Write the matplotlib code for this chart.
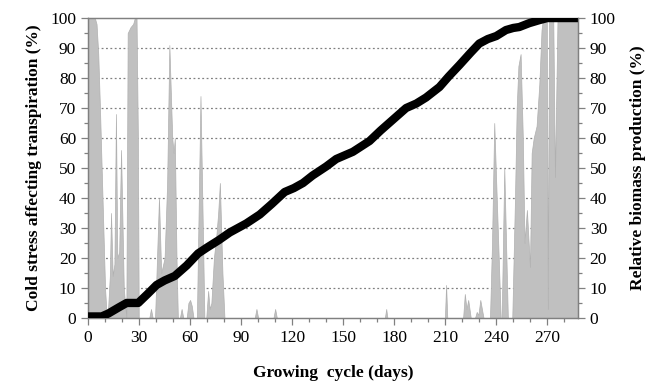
import numpy as np
import matplotlib
matplotlib.use('Agg')
import matplotlib.pyplot as plt
from matplotlib.ticker import MultipleLocator


plt.rcParams['font.family'] = ['Liberation Serif', 'DejaVu Serif']

# Cold stress affecting transpiration (%) - breakpoints
stress_day = [0, 4, 5, 6, 7, 8, 9, 10, 11,
              11.5, 12.8, 13.5, 14.5, 15.5, 16.4, 17.2, 18.3, 19.4, 21, 22.5,
              23.3, 25, 26.5, 27.5, 28.5, 29.3, 29.8,
              36, 37, 38,
              39.4, 41.7, 43, 45, 46.5, 47.8, 49.5, 50.3, 51, 52, 52.8,
              54, 55, 56,
              58, 59, 60, 61, 62,
              64, 66.1, 68.4,
              69.5, 70.6, 71.5, 72.5, 74, 75.5, 76.5, 77.5, 79, 80.2,
              98, 99, 100, 109, 110, 111, 174.5, 175.3, 176,
              209.8, 210.5, 211.2,
              220.5, 221.5, 222.5, 223.5, 225,
              227.5, 228.5, 229.5, 230.6, 232.5,
              236.3, 237.5, 238.8, 242.6, 243.2, 244.7, 246.8,
              249.4, 251, 252, 253, 254.3, 255.6, 256.6, 258, 259.8, 260.8,
              262, 263.7, 265.3, 266.6, 267.5, 269.7, 270.3, 271, 273.5,
              274.5, 276, 288]
stress_val = [100, 100, 98, 88, 70, 50, 30, 10, 0,
              0, 14, 35, 14, 18, 68, 20, 22, 56, 10, 0,
              95, 97, 98, 100, 100, 60, 0,
              0, 3, 0,
              0, 40, 15, 20, 45, 91, 60, 55, 60, 20, 0,
              0, 3, 0,
              0, 5, 6, 4, 0,
              0, 74, 0,
              0, 9, 3, 5, 20, 28, 35, 45, 15, 0,
              0, 3, 0, 0, 3, 0, 0, 3, 0,
              0, 11, 0,
              0, 8, 3, 6, 0,
              0, 2, 1, 6, 0,
              0, 25, 65, 0, 0, 50, 0,
              0, 40, 70, 84, 88, 60, 25, 36, 17, 55,
              60, 64, 78, 96, 100, 100, 3, 100, 100,
              47, 100, 100]

# Relative biomass production (%)
bio_day = [0, 8, 12, 18, 22.7, 29.5, 35, 40.3, 45, 51, 58, 64.7, 70, 77,
           83.3, 93, 101, 108, 115.6, 121, 126.4, 132, 140, 145.9, 155.7,
           165.5, 172, 180, 187, 193, 198.7, 206.6, 212, 218.3, 225, 230,
           235, 240, 245.7, 250, 253.5, 259.4, 265.3, 270, 288]
bio_val = [0.5, 0.5, 1.5, 3.5, 5, 5, 8, 11, 12.5, 14, 17.5, 21.5, 23.5, 26,
           28.5, 31.5, 34.5, 38, 42, 43.3, 45, 47.5, 50.5, 53, 55.4,
           59, 62.5, 66.5, 70, 71.5, 73.5, 77, 80.5, 84.3, 88.5, 91.5,
           93, 94, 96, 96.7, 97, 98.3, 99.3, 100, 100]


fig = plt.figure(figsize=(6.62, 3.84), dpi=100)
ax = fig.add_axes([0.133, 0.172, 0.74, 0.781])

ax.fill_between(stress_day, 0, stress_val, color='#c0c0c0',
                edgecolor='#b0b0b0', linewidth=0.5, zorder=2)
for yv in range(10, 100, 10):
    ax.axhline(yv, color='#808080', linestyle=(0, (1.5, 2)), linewidth=0.9, zorder=1)

ax.set_xlim(0, 288)
ax.set_ylim(0, 100)
ax.xaxis.set_major_locator(MultipleLocator(30))
ax.xaxis.set_minor_locator(MultipleLocator(10))
ax.yaxis.set_major_locator(MultipleLocator(10))
ax.yaxis.set_minor_locator(MultipleLocator(5))

ax2 = ax.twinx()
ax2.plot(bio_day, bio_val, color='black', linewidth=6, solid_capstyle='butt', zorder=5)
ax2.set_ylim(0, 100)
ax2.yaxis.set_major_locator(MultipleLocator(10))
ax2.yaxis.set_minor_locator(MultipleLocator(5))

for a in (ax, ax2):
    for s in a.spines.values():
        s.set_color('#808080')
        s.set_linewidth(0.9)
    a.tick_params(which='both', colors='#808080', labelcolor='black',
                  labelsize=12.5, direction='out', width=0.9)
    a.tick_params(which='major', length=5)
    a.tick_params(which='minor', length=3)

ax.set_xlabel('Growing  cycle (days)', fontsize=12.5, fontweight='bold', labelpad=14)
ax.set_ylabel('Cold stress affecting transpiration (%)', fontsize=12.5, fontweight='bold', labelpad=6)
ax2.set_ylabel('Relative biomass production (%)', fontsize=12.5, fontweight='bold', labelpad=10)

fig.savefig('out.png', dpi=100)
